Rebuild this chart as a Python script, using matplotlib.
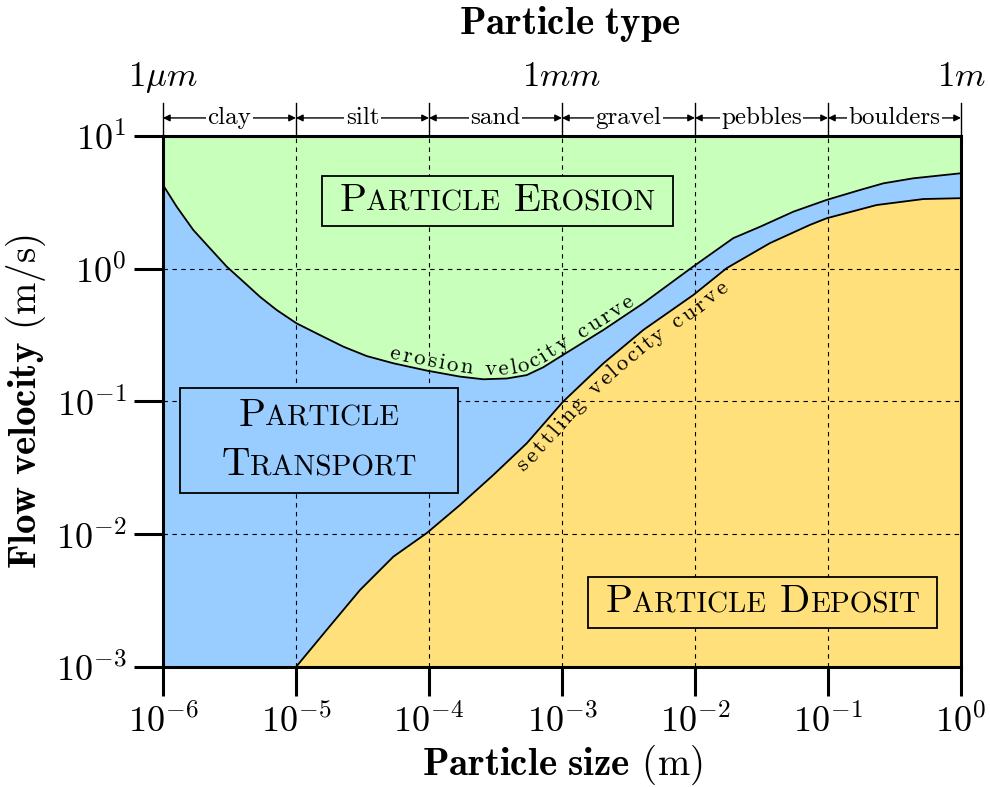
import numpy as np
import matplotlib
matplotlib.use("Agg")
import matplotlib.pyplot as plt
from matplotlib.offsetbox import TextArea, HPacker, VPacker, AnnotationBbox
from matplotlib.patches import Rectangle
from matplotlib.font_manager import FontProperties

plt.rcParams["font.family"] = "cmr10"
plt.rcParams["mathtext.fontset"] = "cm"
plt.rcParams["axes.formatter.use_mathtext"] = True

# erosion velocity curve (particle size in m, flow velocity in m/s)
erosion_size = [1.0e-6, 1.27e-6, 1.69e-6, 2.25e-6, 3.01e-6, 4.02e-6, 5.36e-6, 7.16e-6,
                1.01e-5, 1.51e-5, 2.27e-5, 3.40e-5, 5.40e-5, 9.62e-5, 1.71e-4, 2.56e-4,
                3.84e-4, 5.43e-4, 7.23e-4, 9.66e-4, 2.05e-3, 4.09e-3, 9.71e-3, 1.94e-2,
                3.08e-2, 5.49e-2, 9.77e-2, 0.174, 0.261, 0.438, 1.0]
erosion_vel = [4.28, 2.93, 1.96, 1.43, 1.04, 0.80, 0.615, 0.489,
               0.388, 0.317, 0.259, 0.220, 0.194, 0.171, 0.154, 0.147,
               0.149, 0.158, 0.181, 0.217, 0.346, 0.550, 1.04, 1.70,
               2.07, 2.69, 3.30, 3.92, 4.40, 4.80, 5.24]

# settling velocity curve
settling_size = [1.0e-5, 1.70e-5, 3.03e-5, 5.40e-5, 9.62e-5, 1.71e-4, 3.04e-4, 5.43e-4,
                 1.02e-3, 2.05e-3, 4.09e-3, 9.71e-3, 1.73e-2, 3.66e-2, 7.32e-2, 9.77e-2,
                 0.232, 0.520, 1.0]
settling_vel = [1.0e-3, 1.90e-3, 3.80e-3, 6.78e-3, 1.02e-2, 1.66e-2, 2.79e-2, 4.84e-2,
                9.98e-2, 0.194, 0.346, 0.634, 1.01, 1.56, 2.14, 2.40,
                3.02, 3.35, 3.40]

# particle classes along the top
class_edges = [1e-6, 1e-5, 1e-4, 1e-3, 1e-2, 1e-1, 1e0]
class_names = ["clay", "silt", "sand", "gravel", "pebbles", "boulders"]
top_marks = [1e-6, 1e-3, 1e0]
top_labels = [r"$1\mu m$", r"$1mm$", r"$1m$"]

green = "#c8ffba"
blue = "#99ccff"
yellow = "#ffe07a"

fig = plt.figure(figsize=(9.9, 7.87), dpi=100)
ax = fig.add_axes([0.1646, 0.1525, 0.8061, 0.6747])
ax.set_xscale("log")
ax.set_yscale("log")
ax.set_xlim(1e-6, 1)
ax.set_ylim(1e-3, 10)
ax.set_facecolor(blue)

# regions
ax.fill_between(erosion_size, erosion_vel, 10, color=green, lw=0)
ax.fill_between(settling_size, 1e-3, settling_vel, color=yellow, lw=0)
ax.plot(erosion_size, erosion_vel, color="black", lw=1.3)
ax.plot(settling_size, settling_vel, color="black", lw=1.3)

ax.grid(True, which="major", color="black", lw=0.8, linestyle=(0, (4, 4)))
ax.minorticks_off()
ax.tick_params(which="major", direction="out", length=21, width=2.2,
               labelsize=26, pad=5, top=False, right=False)
for sp in ax.spines.values():
    sp.set_linewidth(2.2)

ax.set_xlabel(r"$\mathbf{Particle\ size}$ (m)", fontsize=28, labelpad=3)
ax.set_ylabel(r"$\mathbf{Flow\ velocity}$ (m/s)", fontsize=28, labelpad=6)

# top scale: particle classes
xtr = ax.get_xaxis_transform()
for e in class_edges:
    ax.plot([e, e], [1.0, 1.062], transform=xtr, color="black", lw=1, clip_on=False)
for i, name in enumerate(class_names):
    a, b = class_edges[i], class_edges[i + 1]
    ax.annotate("", xy=(b, 1.034), xytext=(a, 1.034), xycoords=xtr,
                annotation_clip=False,
                arrowprops=dict(arrowstyle="<|-|>", color="black", lw=1,
                                shrinkA=0, shrinkB=0, mutation_scale=10))
    ax.text(np.sqrt(a * b), 1.034, name, transform=xtr, ha="center", va="center",
            fontsize=18, bbox=dict(facecolor="white", edgecolor="none", pad=1))
for m, lab in zip(top_marks, top_labels):
    ax.text(m, 1.111, lab, transform=xtr, ha="center", va="center", fontsize=25)
ax.text(0.51, 1.211, r"$\mathbf{Particle\ type}$", transform=ax.transAxes,
        ha="center", va="center", fontsize=28)


# small caps labels in boxes
def caps_line(words, big=28.5, small=21):
    parts = []
    for k, w in enumerate(words):
        if k > 0:
            parts.append(TextArea(" ", textprops=dict(size=big)))
        parts.append(TextArea(w[0], textprops=dict(size=big)))
        parts.append(TextArea(w[1:].upper(), textprops=dict(size=small)))
    return HPacker(children=parts, align="baseline", pad=0, sep=0)


def caps_box(lines, xy, rect, face):
    ax.add_patch(Rectangle(rect[:2], rect[2], rect[3], transform=ax.transAxes,
                           facecolor=face, edgecolor="black", lw=1.3, zorder=3))
    box = VPacker(children=[caps_line(l) for l in lines], align="center",
                  pad=0, sep=10)
    ab = AnnotationBbox(box, xy, xycoords="axes fraction", frameon=False,
                        zorder=4)
    ax.add_artist(ab)


caps_box([["Particle", "Erosion"]], (0.4192, 0.8776),
         (0.1992, 0.8305, 0.4399, 0.0942), green)
caps_box([["Particle"], ["Transport"]], (0.1955, 0.4266),
         (0.0213, 0.3277, 0.3484, 0.1977), blue)
caps_box([["Particle", "Deposit"]], (0.7513, 0.1215),
         (0.5326, 0.0734, 0.4373, 0.0961), yellow)


# text written along a curve, one letter at a time
def curve_text(xs, ys, label, x_start, offset, size, track, va):
    renderer = fig.canvas.get_renderer()
    prop = FontProperties(family="cmr10", size=size)
    to_data = ax.transData.inverted()
    pts = ax.transData.transform(np.column_stack([xs, ys]))
    s = np.concatenate([[0], np.cumsum(np.hypot(*np.diff(pts, axis=0).T))])
    pos = np.interp(np.log10(x_start), np.log10(xs), s)
    for ch in label:
        if ch == " ":
            pos += size * 0.333 * fig.dpi / 72 + track
            continue
        w = renderer.get_text_width_height_descent(ch, prop, ismath=False)[0]
        mid = pos + w / 2
        px = np.interp(mid, s, pts[:, 0])
        py = np.interp(mid, s, pts[:, 1])
        x0, y0 = np.interp(mid - w, s, pts[:, 0]), np.interp(mid - w, s, pts[:, 1])
        x1, y1 = np.interp(mid + w, s, pts[:, 0]), np.interp(mid + w, s, pts[:, 1])
        ang = np.arctan2(y1 - y0, x1 - x0)
        dx, dy = to_data.transform((px - np.sin(ang) * offset,
                                    py + np.cos(ang) * offset))
        ax.text(dx, dy, ch, size=size, rotation=np.degrees(ang),
                rotation_mode="anchor", ha="center", va=va)
        pos += w + track


curve_text(erosion_size, erosion_vel, "erosion velocity curve", 4.9e-5, 4, 16.5, 2.6,
           "baseline")
curve_text(settling_size, settling_vel, "settling velocity curve", 4.1e-4, -3, 16.5, 2.6,
           "top")

fig.savefig("out.png", dpi=100)
